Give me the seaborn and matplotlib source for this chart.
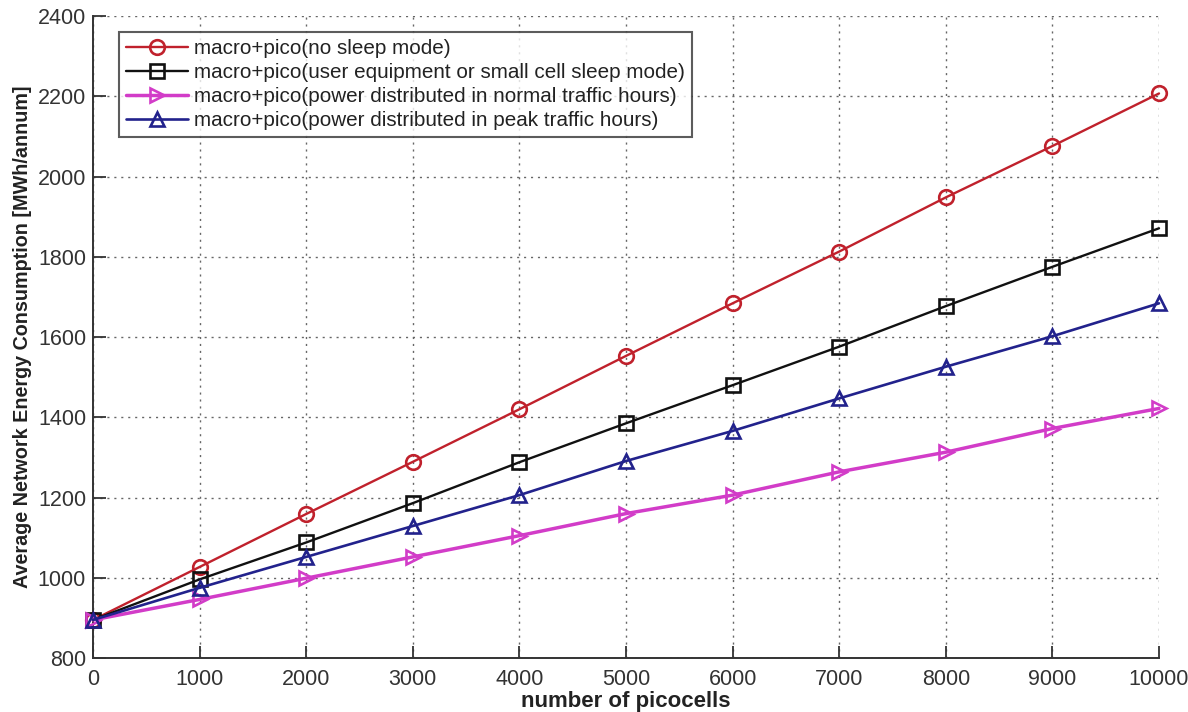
import matplotlib
matplotlib.use("Agg")
import matplotlib.pyplot as plt
import seaborn as sns
import pandas as pd

picocells = [0, 1000, 2000, 3000, 4000, 5000, 6000, 7000, 8000, 9000, 10000]
no_sleep = [895, 1027, 1159, 1289, 1420, 1553, 1684, 1813, 1948, 2076, 2207]
ue_sc_sleep = [895, 996, 1088, 1186, 1288, 1385, 1480, 1576, 1677, 1775, 1871]
normal_traffic = [895, 946, 999, 1052, 1105, 1160, 1206, 1264, 1313, 1372, 1422]
peak_traffic = [895, 975, 1052, 1129, 1206, 1291, 1366, 1447, 1526, 1602, 1684]

labels = [
    "macro+pico(no sleep mode)",
    "macro+pico(user equipment or small cell sleep mode)",
    "macro+pico(power distributed in normal traffic hours)",
    "macro+pico(power distributed in peak traffic hours)",
]
series = [no_sleep, ue_sc_sleep, normal_traffic, peak_traffic]
colors = ["#c0212c", "#111111", "#d23cc8", "#22228c"]
markers = ["o", "s", ">", "^"]
widths = [1.7, 1.7, 2.5, 1.9]

frames = []
for lab, vals in zip(labels, series):
    frames.append(pd.DataFrame({"picocells": picocells, "energy": vals, "scenario": lab}))
df = pd.concat(frames, ignore_index=True)

sns.set_theme(style="white")
plt.rcParams["font.family"] = ["Liberation Sans", "DejaVu Sans"]

fig = plt.figure(figsize=(11.88, 7.12), dpi=100)
ax = fig.add_axes([0.0783, 0.0758, 0.8973, 0.9017])

for lab, col, mk, lw in zip(labels, colors, markers, widths):
    sub = df[df["scenario"] == lab]
    sns.lineplot(data=sub, x="picocells", y="energy", ax=ax, color=col,
                 marker=mk, markersize=10.5, markerfacecolor="none",
                 markeredgecolor=col, markeredgewidth=1.9, linewidth=lw,
                 label=lab, clip_on=False, zorder=3)

ax.set_xlim(0, 10000)
ax.set_ylim(800, 2400)
ax.set_xticks(range(0, 10001, 1000))
ax.set_yticks(range(800, 2401, 200))

ax.grid(True, linestyle=(0, (1.5, 3.5)), color="#666666", linewidth=1.0)
for side in ["top", "right"]:
    ax.spines[side].set_visible(False)
for side in ["left", "bottom"]:
    ax.spines[side].set_color("#333333")
    ax.spines[side].set_linewidth(1.4)

ax.tick_params(axis="both", direction="in", length=9, width=1.3,
               colors="#333333", labelsize=15.5, labelcolor="#333333",
               left=True, bottom=True)
ax.tick_params(axis="x", pad=8)
ax.tick_params(axis="y", pad=5)

ax.set_xlabel("number of picocells", fontsize=16, fontweight="bold", color="#222222")
ax.xaxis.set_label_coords(0.5, -0.052)
ax.set_ylabel("Average Network Energy Consumption [MWh/annum]", fontsize=14.2,
              fontweight="bold", color="#222222", labelpad=4)

leg = ax.legend(loc="upper left", bbox_to_anchor=(0.024, 0.975), fontsize=14.9,
                frameon=True, fancybox=False, edgecolor="#333333",
                handlelength=3.0, borderpad=0.35, labelspacing=0.24,
                handletextpad=0.3, borderaxespad=0.0)
leg.get_frame().set_linewidth(1.5)
for t in leg.get_texts():
    t.set_color("#222222")

fig.savefig("out.png", dpi=100)
